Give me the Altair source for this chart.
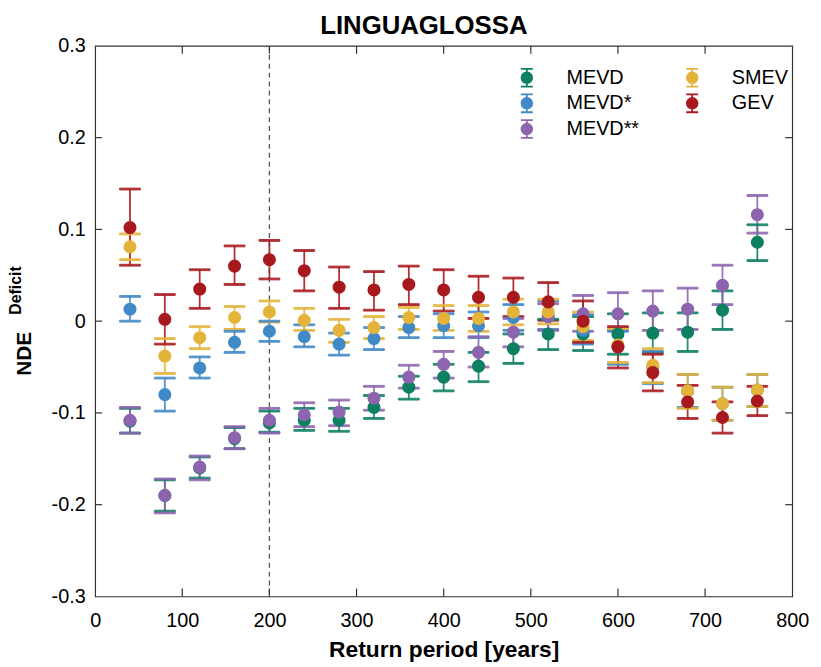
import altair as alt
import pandas as pd

# ---------------- data ----------------
return_period = [40, 80, 120, 160, 200, 240, 280, 320, 360, 400,
                 440, 480, 520, 560, 600, 640, 680, 720, 760]

series_names = ["MEVD", "MEVD*", "MEVD**", "SMEV", "GEV"]
series_colors = ["#0E8062", "#4189C7", "#8D64AF", "#E4B43A", "#A8191E"]

mevd = [-0.109, -0.190, -0.160, -0.128, -0.111, -0.108, -0.108, -0.094, -0.072, -0.061,
        -0.049, -0.030, -0.014, -0.014, -0.014, -0.013, -0.012, 0.012, 0.086]
mevd_lo = [-0.122, -0.207, -0.171, -0.139, -0.121, -0.119, -0.120, -0.106, -0.085, -0.076,
           -0.066, -0.046, -0.031, -0.032, -0.036, -0.034, -0.033, -0.009, 0.066]
mevd_hi = [-0.095, -0.173, -0.148, -0.116, -0.098, -0.095, -0.095, -0.081, -0.060, -0.047,
           -0.034, -0.014, 0.002, 0.005, 0.008, 0.009, 0.009, 0.033, 0.105]

mevd1 = [0.013, -0.080, -0.051, -0.023, -0.011, -0.017, -0.025, -0.019, -0.007, -0.005,
         -0.005, 0.004, 0.005, -0.010, -0.028, -0.050, -0.076, -0.090, -0.075]
mevd1_lo = [0.000, -0.098, -0.062, -0.034, -0.022, -0.028, -0.037, -0.031, -0.018, -0.018,
            -0.018, -0.010, -0.009, -0.025, -0.047, -0.068, -0.094, -0.108, -0.093]
mevd1_hi = [0.027, -0.062, -0.039, -0.011, 0.000, -0.004, -0.013, -0.007, 0.005, 0.008,
            0.010, 0.018, 0.022, 0.007, -0.011, -0.033, -0.058, -0.072, -0.058]

mevd2 = [-0.108, -0.190, -0.159, -0.127, -0.108, -0.102, -0.099, -0.084, -0.061, -0.047,
         -0.034, -0.012, 0.005, 0.008, 0.008, 0.011, 0.013, 0.039, 0.116]
mevd2_lo = [-0.122, -0.209, -0.173, -0.139, -0.122, -0.115, -0.114, -0.097, -0.073, -0.062,
            -0.050, -0.028, -0.010, -0.011, -0.010, -0.010, -0.009, 0.018, 0.096]
mevd2_hi = [-0.094, -0.172, -0.147, -0.115, -0.095, -0.089, -0.086, -0.071, -0.048, -0.033,
            -0.017, 0.003, 0.019, 0.028, 0.031, 0.033, 0.036, 0.061, 0.137]

smev = [0.081, -0.038, -0.018, 0.004, 0.010, 0.001, -0.010, -0.007, 0.004, 0.003,
        0.003, 0.010, 0.010, -0.006, -0.026, -0.048, -0.076, -0.090, -0.075]
smev_lo = [0.067, -0.057, -0.030, -0.009, -0.001, -0.010, -0.023, -0.019, -0.009, -0.010,
           -0.011, -0.004, -0.003, -0.021, -0.045, -0.067, -0.095, -0.108, -0.093]
smev_hi = [0.095, -0.019, -0.006, 0.016, 0.022, 0.014, 0.002, 0.005, 0.015, 0.017,
           0.017, 0.024, 0.024, 0.010, -0.008, -0.030, -0.058, -0.072, -0.058]

gev = [0.102, 0.002, 0.035, 0.060, 0.067, 0.055, 0.037, 0.034, 0.040, 0.034,
       0.026, 0.026, 0.021, 0.000, -0.028, -0.056, -0.088, -0.105, -0.087]
gev_lo = [0.061, -0.025, 0.014, 0.040, 0.046, 0.033, 0.014, 0.012, 0.018, 0.011,
          0.003, 0.005, 0.001, -0.023, -0.051, -0.076, -0.106, -0.122, -0.103]
gev_hi = [0.144, 0.029, 0.056, 0.082, 0.088, 0.077, 0.059, 0.054, 0.060, 0.056,
          0.049, 0.047, 0.042, 0.022, -0.006, -0.036, -0.070, -0.088, -0.071]

x_tick_values = [0, 100, 200, 300, 400, 500, 600, 700, 800]
y_tick_values = [-0.3, -0.2, -0.1, 0, 0.1, 0.2, 0.3]
inner_x_ticks = [100, 200, 300, 400, 500, 600, 700]
inner_y_ticks = [-0.2, -0.1, 0, 0.1, 0.2]
reference_line = [200]

title_text = ["LINGUAGLOSSA"]
x_title = "Return period [years]"
y_title_main = ["NDE"]
y_title_sup = ["Deficit"]

# ---------------- table ----------------
centers = [mevd, mevd1, mevd2, smev, gev]
lows = [mevd_lo, mevd1_lo, mevd2_lo, smev_lo, gev_lo]
highs = [mevd_hi, mevd1_hi, mevd2_hi, smev_hi, gev_hi]
rows = []
for name, c, lo, hi in zip(series_names, centers, lows, highs):
    for xv, cv, lv, hv in zip(return_period, c, lo, hi):
        rows.append({"rp": xv, "nde": cv, "lo": lv, "hi": hv, "series": name})
df = pd.DataFrame(rows)

FONT = "Liberation Sans"
AX = "#333333"

x_scale = alt.Scale(domain=[0, 800], nice=False, zero=False)
y_scale = alt.Scale(domain=[-0.3, 0.3], nice=False, zero=False)
c_scale = alt.Scale(domain=series_names, range=series_colors)

glyph = ("M-0.67,-1L0.67,-1M0,-1L0,1M-0.67,1L0.67,1"
         "M-0.6,0A0.6,0.6 0 1,0 0.6,0A0.6,0.6 0 1,0 -0.6,0Z")

legend = alt.Legend(
    title="", orient="none", legendX=426, legendY=22, columns=2,
    columnPadding=43, rowPadding=0, padding=0,
    symbolType=glyph, symbolSize=324, symbolStrokeWidth=1.8,
    labelFont=FONT, labelFontSize=20, labelColor="black", labelOffset=30,
    labelLimit=200, symbolOpacity=1,
)

base = alt.Chart(df)

x_enc = alt.X("rp:Q", scale=x_scale,
              axis=alt.Axis(values=x_tick_values, title=x_title, grid=False, domain=False,
                            ticks=False, labelPadding=14, labelFont=FONT, labelFontSize=20,
                            labelColor="black", labelFlush=False, titleFont=FONT,
                            titleFontSize=23, titleFontWeight="bold", titleColor="black",
                            titlePadding=9))
y_enc = alt.Y("nde:Q", scale=y_scale,
              axis=alt.Axis(values=y_tick_values, title="", grid=False, domain=False,
                            ticks=False, labelPadding=10, labelFont=FONT, labelFontSize=20,
                            labelColor="black", labelFlush=False,
                            labelExpr="'' + datum.value"))

bars = base.mark_rule(strokeWidth=1.8, opacity=0.9).encode(
    x=x_enc, y=alt.Y("lo:Q", scale=y_scale), y2="hi:Q",
    stroke=alt.Stroke("series:N", scale=c_scale, legend=legend))
cap_lo = base.mark_tick(size=21, thickness=1.8, orient="horizontal", opacity=0.9).encode(
    x="rp:Q", y=alt.Y("lo:Q", scale=y_scale), stroke=alt.Stroke("series:N", legend=legend),
    fill=alt.Fill("series:N", legend=legend))
cap_hi = base.mark_tick(size=21, thickness=1.8, orient="horizontal", opacity=0.9).encode(
    x="rp:Q", y=alt.Y("hi:Q", scale=y_scale), stroke=alt.Stroke("series:N", legend=legend),
    fill=alt.Fill("series:N", legend=legend))
points = base.mark_point(filled=True, size=125, opacity=1).encode(
    x="rp:Q", y=y_enc,
    fill=alt.Fill("series:N", scale=c_scale, legend=legend),
    stroke=alt.Stroke("series:N", legend=legend))

ref = alt.Chart(pd.DataFrame({"rp": reference_line})).mark_rule(
    color="#555555", strokeDash=[5, 4], strokeWidth=1.3).encode(x=alt.X("rp:Q", scale=x_scale))

xt = pd.DataFrame({"rp": inner_x_ticks})
yt = pd.DataFrame({"nde": inner_y_ticks})
tick_b = alt.Chart(xt).mark_rule(color=AX, strokeWidth=1.2).encode(
    x=alt.X("rp:Q", scale=x_scale), y=alt.value(556), y2=alt.value(548))
tick_t = alt.Chart(xt).mark_rule(color=AX, strokeWidth=1.2).encode(
    x=alt.X("rp:Q", scale=x_scale), y=alt.value(0), y2=alt.value(8))
tick_l = alt.Chart(yt).mark_rule(color=AX, strokeWidth=1.2).encode(
    y=alt.Y("nde:Q", scale=y_scale), x=alt.value(0), x2=alt.value(7))
tick_r = alt.Chart(yt).mark_rule(color=AX, strokeWidth=1.2).encode(
    y=alt.Y("nde:Q", scale=y_scale), x=alt.value(704), x2=alt.value(697))

title_mark = alt.Chart(pd.DataFrame({"t": title_text})).mark_text(
    font=FONT, fontSize=26, fontWeight="bold", align="center",
    baseline="alphabetic", color="black").encode(
    text="t:N", x=alt.value(332), y=alt.value(-12))
ylab_main = alt.Chart(pd.DataFrame({"t": y_title_main})).mark_text(
    font=FONT, fontSize=21, fontWeight="bold", angle=270, align="center",
    baseline="middle", color="black").encode(
    text="t:N", x=alt.value(-71), y=alt.value(311))
ylab_sup = alt.Chart(pd.DataFrame({"t": y_title_sup})).mark_text(
    font=FONT, fontSize=16, fontWeight="bold", angle=270, align="center",
    baseline="middle", color="black").encode(
    text="t:N", x=alt.value(-80), y=alt.value(247))

chart = alt.layer(
    ref, bars, cap_lo, cap_hi, points, tick_b, tick_t, tick_l, tick_r,
    title_mark, ylab_main, ylab_sup
).properties(
    width=704, height=556,
    autosize=alt.AutoSizeParams(type="none"),
    padding={"left": 88, "top": 35, "right": 21, "bottom": 68},
).resolve_scale(fill="shared", stroke="shared").configure_view(
    stroke=AX, strokeWidth=1.2).configure_axis(grid=False)

chart.save("out.html", embed_options={"renderer": "svg", "actions": False})
